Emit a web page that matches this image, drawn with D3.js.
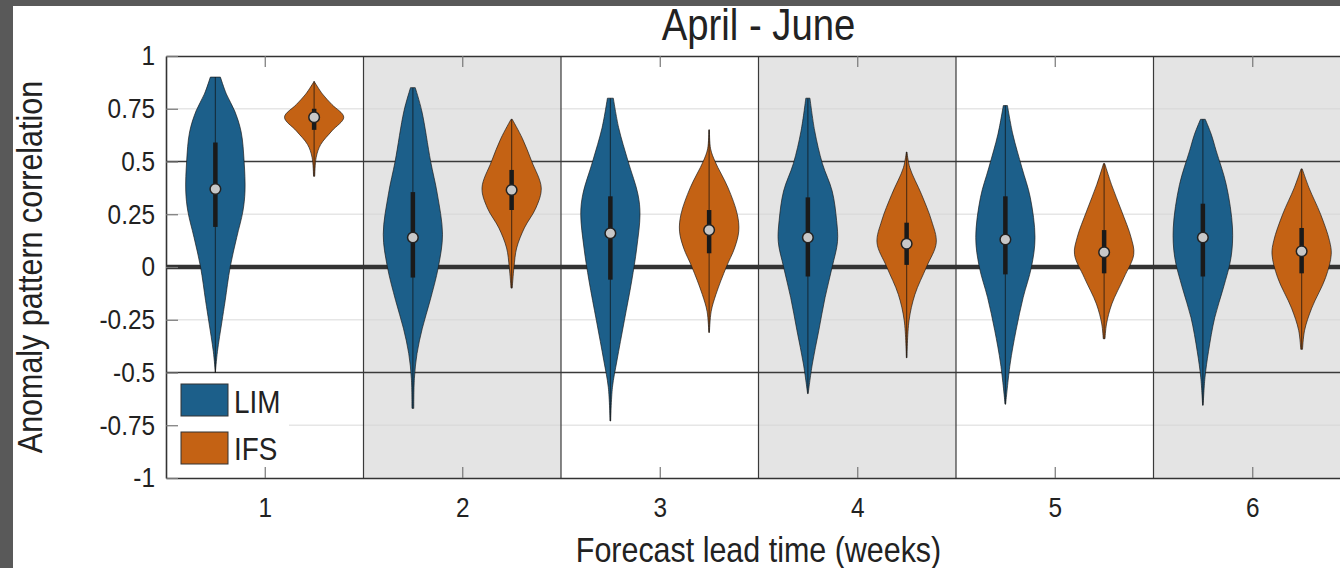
<!DOCTYPE html>
<html>
<head>
<meta charset="utf-8">
<script src="https://cdn.jsdelivr.net/npm/d3@7"></script>
<style>
  body { margin: 0; background: #fff; }
  text { font-family: "Liberation Sans", Arial, sans-serif; fill: #222; }
</style>
</head>
<body>
<script>
// ---- data ----
var weeks = [1, 2, 3, 4, 5, 6];
var seriesNames = ["LIM", "IFS"];
var yTicks = [-1, -0.75, -0.5, -0.25, 0, 0.25, 0.5, 0.75, 1];

// violin outlines: [correlation, relative density]
var limProfile = [
  [[0.90,0.17],[0.82,0.37],[0.74,0.65],[0.64,0.87],[0.50,0.97],[0.36,1.0],[0.265,0.93],[0.14,0.72],[0.0,0.5],[-0.16,0.33],[-0.26,0.22],[-0.40,0.07],[-0.50,0.0]],
  [[0.85,0.08],[0.74,0.3],[0.50,0.6],[0.35,0.82],[0.155,1.0],[0.0,0.86],[-0.16,0.58],[-0.29,0.32],[-0.41,0.14],[-0.53,0.05],[-0.67,0.03]],
  [[0.80,0.1],[0.66,0.28],[0.50,0.6],[0.345,0.93],[0.25,1.0],[0.09,0.89],[-0.066,0.72],[-0.255,0.47],[-0.445,0.22],[-0.57,0.07],[-0.73,0.01]],
  [[0.80,0.07],[0.645,0.23],[0.49,0.49],[0.36,0.82],[0.22,0.97],[0.12,1.0],[0.0,0.82],[-0.145,0.58],[-0.30,0.37],[-0.46,0.15],[-0.60,0.01]],
  [[0.765,0.07],[0.63,0.25],[0.47,0.56],[0.33,0.84],[0.14,1.0],[0.0,0.88],[-0.145,0.6],[-0.30,0.36],[-0.46,0.16],[-0.65,0.01]],
  [[0.70,0.08],[0.63,0.28],[0.55,0.45],[0.39,0.79],[0.185,1.0],[0.045,0.95],[-0.10,0.69],[-0.24,0.4],[-0.40,0.19],[-0.525,0.07],[-0.655,0.01]]
];
var ifsProfile = [
  [[0.88,0.0],[0.82,0.28],[0.77,0.6],[0.71,1.0],[0.645,0.6],[0.58,0.22],[0.52,0.07],[0.43,0.02]],
  [[0.70,0.02],[0.61,0.36],[0.50,0.68],[0.375,1.0],[0.28,0.82],[0.185,0.43],[0.09,0.17],[0.0,0.08],[-0.10,0.02]],
  [[0.65,0.01],[0.56,0.05],[0.50,0.2],[0.375,0.64],[0.25,0.95],[0.17,1.0],[0.09,0.86],[0.0,0.58],[-0.13,0.23],[-0.21,0.07],[-0.31,0.01]],
  [[0.545,0.01],[0.47,0.11],[0.345,0.5],[0.22,0.84],[0.115,1.0],[0.0,0.67],[-0.13,0.28],[-0.255,0.08],[-0.43,0.01]],
  [[0.49,0.02],[0.39,0.25],[0.265,0.59],[0.14,0.91],[0.06,1.0],[-0.05,0.67],[-0.175,0.26],[-0.27,0.08],[-0.34,0.03]],
  [[0.465,0.02],[0.375,0.25],[0.25,0.64],[0.125,0.94],[0.06,1.0],[-0.05,0.81],[-0.195,0.34],[-0.30,0.1],[-0.39,0.03]]
];

var limMedian = [0.37, 0.14, 0.16, 0.14, 0.13, 0.14];
var limQ1     = [0.19, -0.05, -0.06, -0.045, -0.035, -0.045];
var limQ3     = [0.59, 0.355, 0.335, 0.33, 0.335, 0.30];
var limMin    = [-0.50, -0.67, -0.73, -0.60, -0.65, -0.655];
var limMax    = [0.90, 0.85, 0.80, 0.80, 0.765, 0.70];

var ifsMedian = [0.71, 0.365, 0.175, 0.11, 0.07, 0.075];
var ifsQ1     = [0.65, 0.27, 0.065, 0.01, -0.03, -0.03];
var ifsQ3     = [0.75, 0.46, 0.27, 0.21, 0.175, 0.185];
var ifsMin    = [0.43, -0.10, -0.31, -0.43, -0.34, -0.39];
var ifsMax    = [0.88, 0.70, 0.65, 0.545, 0.49, 0.465];

// ---- layout ----
var W = 1340, H = 568;
var mLeft = 166, mTop = 56, mBottom = 478;
var step = 197.5;
var squeeze = 0.87; // text in the figure is a bit narrower than Arial

var colors = {LIM: "#1c5f8a", IFS: "#c46214"};

var x = d3.scaleLinear().domain([0.5, 6.5]).range([mLeft, mLeft + 6 * step]);
var y = d3.scaleLinear().domain([-1, 1]).range([mBottom, mTop]);
var halfW = x(0.15) - x(0);

var series = [
  {name: "LIM", off: -0.25, prof: limProfile, med: limMedian, q1: limQ1, q3: limQ3, lo: limMin, hi: limMax},
  {name: "IFS", off: 0.25, prof: ifsProfile, med: ifsMedian, q1: ifsQ1, q3: ifsQ3, lo: ifsMin, hi: ifsMax}
];

var svg = d3.select("body").append("svg")
  .attr("width", W)
  .attr("height", H);

function label(g, txt, px, py, size, anchor, rot) {
  return g.append("text")
    .attr("transform", "translate(" + px + "," + py + ")" + (rot ? " rotate(" + rot + ")" : "") + " scale(" + squeeze + ",1)")
    .attr("text-anchor", anchor)
    .style("font-size", size + "px")
    .text(txt);
}

// shaded weeks
svg.selectAll(".band")
  .data(weeks.filter(function(d) { return d % 2 == 0; }))
  .enter().append("rect")
  .attr("x", function(d) { return x(d - 0.5); })
  .attr("width", x(1) - x(0))
  .attr("y", mTop)
  .attr("height", mBottom - mTop)
  .style("fill", "#e4e4e4");

// light grid
svg.selectAll(".grid")
  .data([-0.75, -0.25, 0.25, 0.75])
  .enter().append("line")
  .attr("x1", mLeft).attr("x2", W)
  .attr("y1", function(d) { return y(d); })
  .attr("y2", function(d) { return y(d); })
  .style("stroke", "#d6d6d6").style("stroke-width", 1.5).style("opacity", 0.6);

// dark reference lines
svg.selectAll(".half")
  .data([-0.5, 0.5])
  .enter().append("line")
  .attr("x1", mLeft).attr("x2", W)
  .attr("y1", function(d) { return y(d); })
  .attr("y2", function(d) { return y(d); })
  .style("stroke", "#3a3a3a").style("stroke-width", 1.5);

svg.selectAll(".sep")
  .data(weeks.slice(1))
  .enter().append("line")
  .attr("x1", function(d) { return x(d - 0.5); })
  .attr("x2", function(d) { return x(d - 0.5); })
  .attr("y1", mTop).attr("y2", mBottom)
  .style("stroke", "#3a3a3a").style("stroke-width", 1.2);

svg.append("line")
  .attr("x1", mLeft).attr("x2", W)
  .attr("y1", y(0)).attr("y2", y(0))
  .style("stroke", "#333").style("stroke-width", 4.5);

// violins
series.forEach(function(s) {
  weeks.forEach(function(wk, i) {
    var cx = x(wk + s.off);
    var area = d3.area()
      .curve(d3.curveCatmullRom.alpha(0.5))
      .y(function(d) { return y(d[0]); })
      .x0(function(d) { return cx - d[1] * halfW; })
      .x1(function(d) { return cx + d[1] * halfW; });

    svg.append("path")
      .datum(s.prof[i])
      .attr("d", area)
      .style("fill", colors[s.name])
      .style("stroke", "#1a1a1a")
      .style("stroke-opacity", 0.75)
      .style("stroke-width", 0.9);

    svg.append("line")
      .attr("x1", cx).attr("x2", cx)
      .attr("y1", y(s.hi[i])).attr("y2", y(s.lo[i]))
      .style("stroke", "#111").style("stroke-opacity", 0.6).style("stroke-width", 1.2);

    svg.append("line")
      .attr("x1", cx).attr("x2", cx)
      .attr("y1", y(s.q3[i])).attr("y2", y(s.q1[i]))
      .style("stroke", "#1a1a1a").style("stroke-width", 4.5);

    svg.append("circle")
      .attr("cx", cx).attr("cy", y(s.med[i]))
      .attr("r", 5.3)
      .style("fill", "#c8c8c8")
      .style("stroke", "#222").style("stroke-width", 1.5);
  });
});

// legend
var legend = svg.append("g");
legend.append("rect")
  .attr("x", mLeft + 1).attr("y", y(-0.5) + 1.5)
  .attr("width", 122).attr("height", mBottom - y(-0.5) - 2)
  .style("fill", "#fff");

seriesNames.forEach(function(name, i) {
  legend.append("rect")
    .attr("x", 181).attr("y", 384 + i * 48)
    .attr("width", 47).attr("height", 32)
    .style("fill", colors[name])
    .style("stroke", "#333").style("stroke-width", 1);
  label(legend, name, 234, 413 + i * 47, 32, "start");
});

// axes
var xAxis = d3.axisBottom(x).tickValues(weeks).tickSize(-11).tickSizeOuter(0).tickPadding(19)
  .tickFormat(d3.format("d"));
var xAxisTop = d3.axisTop(x).tickValues(weeks).tickSize(-11).tickSizeOuter(0).tickFormat("");
var yAxis = d3.axisLeft(y).tickValues(yTicks).tickSize(-12).tickSizeOuter(0)
  .tickFormat(function(d) { return String(d); });

var gx = svg.append("g")
  .attr("transform", "translate(0," + mBottom + ")")
  .call(xAxis);
var gt = svg.append("g")
  .attr("transform", "translate(0," + mTop + ")")
  .call(xAxisTop);
var gy = svg.append("g")
  .attr("transform", "translate(" + mLeft + ",0)")
  .call(yAxis);

[gx, gt, gy].forEach(function(g) {
  g.selectAll(".tick line").style("stroke", "#777").style("stroke-width", 1.2);
  g.select(".domain").style("stroke", "#333").style("stroke-width", 1.6);
});

gx.selectAll("text")
  .attr("transform", "scale(" + squeeze + ",1)")
  .style("font-size", "28px")
  .style("font-family", "Liberation Sans, Arial, sans-serif")
  .style("fill", "#222");

gy.selectAll("text")
  .attr("x", 0)
  .attr("transform", "translate(-11,0) scale(" + squeeze + ",1)")
  .style("font-size", "28px")
  .style("font-family", "Liberation Sans, Arial, sans-serif")
  .style("fill", "#222");

// titles
label(svg, "April - June", (x(0.5) + x(6.5)) / 2, 40, 44, "middle");
label(svg, "Forecast lead time (weeks)", (x(0.5) + x(6.5)) / 2, 562, 35, "middle");
label(svg, "Anomaly pattern correlation", 42, (mTop + mBottom) / 2, 35, "middle", -90);

// dark frame of the screenshot
svg.append("rect").attr("x", 0).attr("y", 0).attr("width", W).attr("height", 6).style("fill", "#595959");
svg.append("rect").attr("x", 0).attr("y", 0).attr("width", 13).attr("height", H).style("fill", "#595959");
</script>
</body>
</html>
